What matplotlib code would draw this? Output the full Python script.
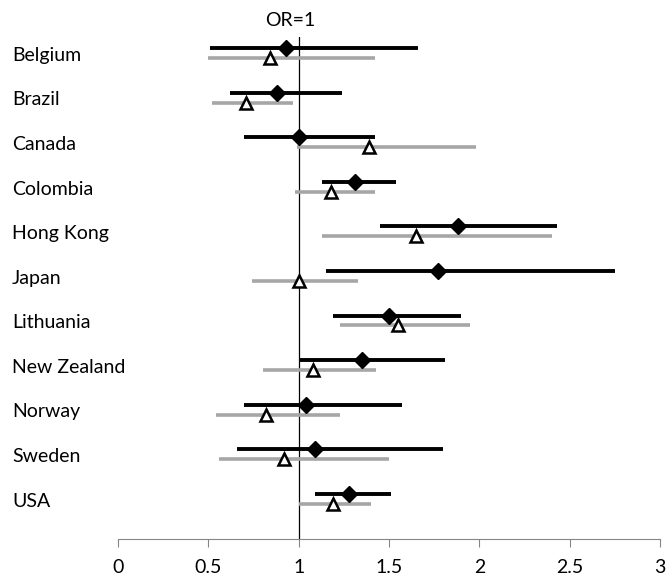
import matplotlib
matplotlib.use("Agg")
import matplotlib.pyplot as plt
import matplotlib.transforms as mtransforms

countries = ["Belgium", "Brazil", "Canada", "Colombia", "Hong Kong", "Japan",
             "Lithuania", "New Zealand", "Norway", "Sweden", "USA"]

# black series: point estimate with lower / upper bounds
black_or = [0.93, 0.88, 1.00, 1.31, 1.88, 1.77, 1.50, 1.35, 1.04, 1.09, 1.28]
black_lo = [0.51, 0.62, 0.70, 1.13, 1.45, 1.15, 1.19, 1.00, 0.70, 0.66, 1.09]
black_hi = [1.66, 1.24, 1.42, 1.54, 2.43, 2.75, 1.90, 1.81, 1.57, 1.80, 1.51]

# grey series: point estimate with lower / upper bounds
grey_or = [0.84, 0.71, 1.39, 1.18, 1.65, 1.00, 1.55, 1.08, 0.82, 0.92, 1.19]
grey_lo = [0.50, 0.52, 0.99, 0.98, 1.13, 0.74, 1.23, 0.80, 0.54, 0.56, 1.00]
grey_hi = [1.42, 0.97, 1.98, 1.42, 2.40, 1.33, 1.95, 1.43, 1.23, 1.50, 1.40]

x_ticks = [0, 0.5, 1, 1.5, 2, 2.5, 3]
x_tick_labels = ["0", "0.5", "1", "1.5", "2", "2.5", "3"]

plt.rcParams["font.family"] = ["Lato", "DejaVu Sans"]

fig = plt.figure(figsize=(6.68, 5.81), dpi=100)
ax = fig.add_axes([118 / 668, 1 - 539 / 581, 542 / 668, 502 / 581])

ypos = list(range(len(countries)))
off = 0.11
y_black = [y - off for y in ypos]
y_grey = [y + off for y in ypos]

ax.axvline(1, color="black", lw=0.9, zorder=1)

ax.hlines(y_black, black_lo, black_hi, color="black", lw=2.8, zorder=3)
ax.hlines(y_grey, grey_lo, grey_hi, color="#a6a6a6", lw=2.6, zorder=2)
ax.plot(black_or, y_black, linestyle="none", marker="D", markersize=8,
        color="black", zorder=5)
ax.plot(grey_or, y_grey, linestyle="none", marker="^", markersize=8,
        markerfacecolor="white", markeredgecolor="black", markeredgewidth=1.8,
        zorder=4)

ax.set_xlim(0, 3)
ax.set_ylim(10.9, -0.36)
ax.set_xticks(x_ticks)
ax.set_xticklabels(x_tick_labels, fontsize=14)
ax.tick_params(axis="x", direction="out", length=5.5, color="#868686", pad=9)
ax.set_yticks([])
for side in ["top", "right", "left"]:
    ax.spines[side].set_visible(False)
ax.spines["bottom"].set_color("#868686")

# country labels, left-aligned near the figure edge
trans = mtransforms.blended_transform_factory(fig.transFigure, ax.transData)
for name, y in zip(countries, ypos):
    ax.text(12 / 668, y + 0.05, name, transform=trans, ha="left", va="center",
            fontsize=14)

ax.annotate("OR=1", xy=(1, -0.36), xycoords="data", xytext=(-6, 6),
            textcoords="offset points", ha="center", va="bottom",
            fontsize=14, annotation_clip=False)

fig.savefig("out.png", dpi=100)
